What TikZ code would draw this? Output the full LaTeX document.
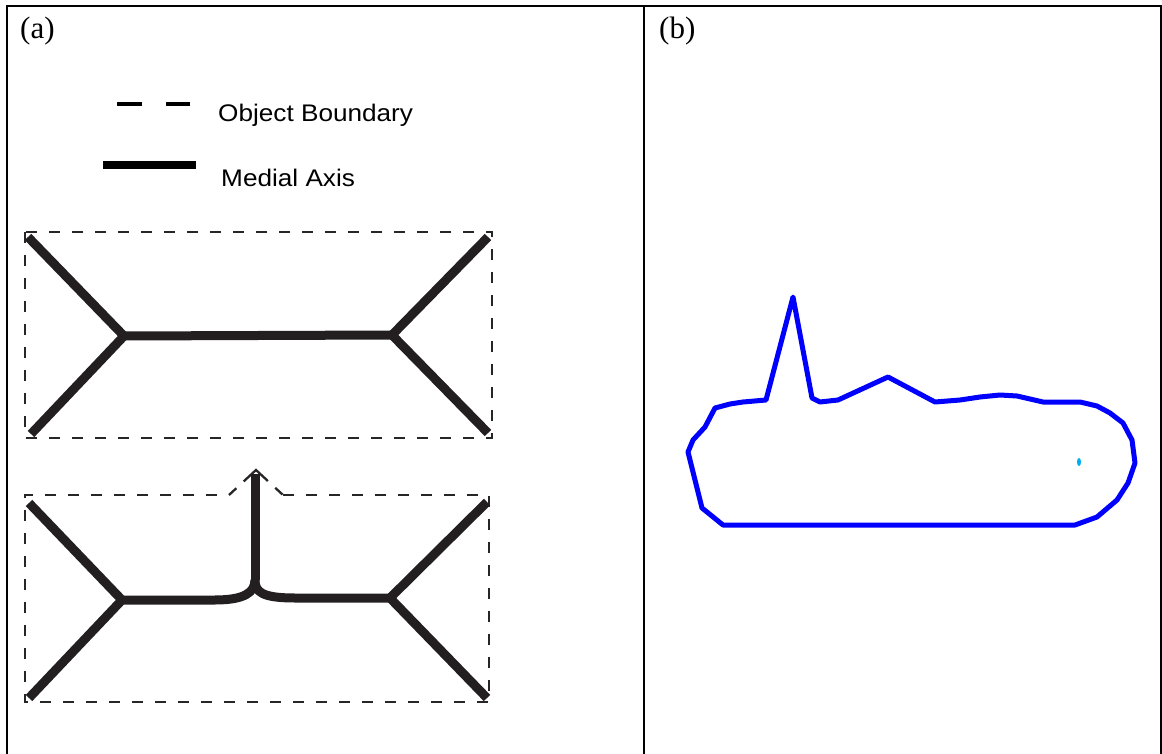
\documentclass[tikz,border=0pt]{standalone}
\usepackage{fontspec}
\setmainfont{Liberation Serif}
\newfontfamily\legendfont{Liberation Sans}
\begin{document}
\begin{tikzpicture}[x=1pt,y=-1pt,
  frame/.style={line width=2.2pt,black},
  boundary/.style={line width=2.3pt,color=black!85,dash pattern=on 11pt off 12pt},
  axisline/.style={line width=9pt,color={rgb,255:red,35;green,31;blue,32}},
  outline/.style={line width=5pt,color={rgb,255:red,0;green,0;blue,255},line join=round},
  paneltag/.style={anchor=base west,inner sep=0pt,font=\fontsize{31}{36}\selectfont},
  legendtext/.style={anchor=base west,inner sep=0pt,xscale=1.09,font=\legendfont\fontsize{24}{28}\selectfont}]
\useasboundingbox (0,0) rectangle (1162,754);
% frame
\coordinate (fbl) at (7,760);
\coordinate (ftl) at (7,6);
\coordinate (ftr) at (1161,6);
\coordinate (fbr) at (1161,760);
\coordinate (dtop) at (644,6);
\coordinate (dbot) at (644,760);
\draw[frame] (fbl) -- (ftl) -- (ftr) -- (fbr);
\draw[frame] (dtop) -- (dbot);
% panel tags
\node[paneltag] (ta) at (20,39) {(a)};
\node[paneltag] (tb) at (659,39) {(b)};
% legend
\coordinate (l1a) at (117,104);
\coordinate (l1b) at (190,104);
\draw[line width=4pt,black,dash pattern=on 25pt off 24pt] (l1a) -- (l1b);
\coordinate (l2a) at (103,165);
\coordinate (l2b) at (196,165);
\draw[line width=8pt,black] (l2a) -- (l2b);
\node[legendtext] (ob) at (218,122) {Object Boundary};
\node[legendtext] (ma) at (221,187) {Medial Axis};
% top shape
\coordinate (b1tl) at (25,232);
\coordinate (b1br) at (492,438);
\draw[boundary] (b1tl) rectangle (b1br);
\coordinate (j1) at (124,336);
\coordinate (j2) at (392,335);
\coordinate (e1) at (28,237);
\coordinate (e2) at (31,434);
\coordinate (e3) at (488,237);
\coordinate (e4) at (488,433);
\draw[axisline] (e1) -- (j1) -- (e2);
\draw[axisline] (j1) -- (j2);
\draw[axisline] (e3) -- (j2) -- (e4);
% bottom shape
\coordinate (p1) at (25,495);
\coordinate (p2) at (229,495);
\coordinate (p3) at (256,470);
\coordinate (p4) at (283,495);
\coordinate (p5) at (489,495);
\coordinate (p6) at (489,702);
\coordinate (p7) at (25,702);
\draw[boundary] (p4) -- (p5) -- (p6) -- (p7) -- (p1) -- (p2);
\draw[boundary,dash pattern=on 10pt off 10pt on 33pt off 10pt on 10pt,line join=miter] (p2) -- (p3) -- (p4);
\coordinate (k1) at (122,600);
\coordinate (k2) at (390,598);
\coordinate (m1) at (215,600);
\coordinate (m2) at (295,598);
\coordinate (mc) at (255,580);
\coordinate (mt) at (255,474);
\coordinate (f1) at (29,503);
\coordinate (f2) at (29,698);
\coordinate (f3) at (487,502);
\coordinate (f4) at (487,698);
\draw[axisline] (f1) -- (k1) -- (f2);
\draw[axisline] (f3) -- (k2) -- (f4);
\draw[axisline] (k1) -- (m1) .. controls (245,600) and (255,592) .. (mc);
\draw[axisline] (mc) .. controls (255,592) and (262,598) .. (m2) -- (k2);
\draw[axisline] (mc) -- (mt);
% panel b outline
\draw[outline] (793,297) -- (812,398) -- (820,402) -- (838,400) -- (888,377) -- (935,402)
  -- (960,400) -- (980,397) -- (1000,395) -- (1017,396) -- (1043,402) -- (1080,402)
  -- (1097,406) -- (1110,413) -- (1123,423) -- (1132,440) -- (1135,463) -- (1128,483)
  -- (1117,500) -- (1097,517) -- (1075,525) -- (723,525) -- (702,508) -- (695,480)
  -- (688,452) -- (693,440) -- (705,427) -- (715,408) -- (730,404) -- (743,402)
  -- (766,400) -- cycle;
\coordinate (cy) at (1079,462);
\fill[cyan] (cy) ellipse (2pt and 4pt);
\end{tikzpicture}
\end{document}
